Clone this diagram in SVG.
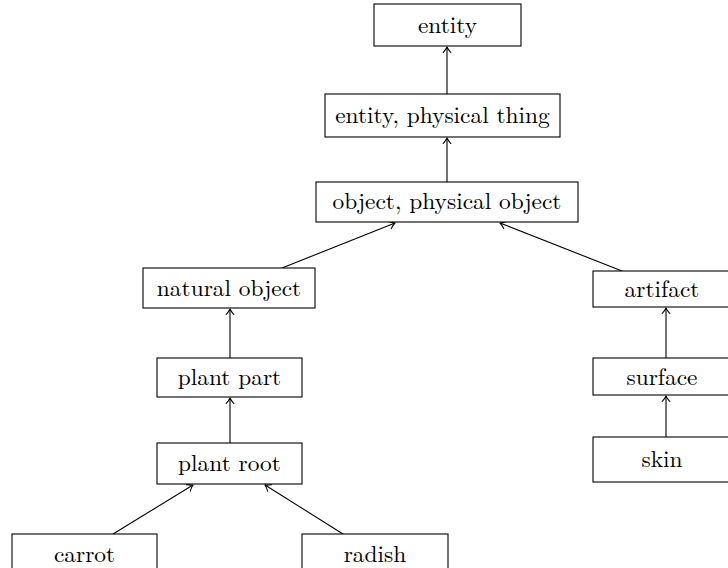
<svg xmlns="http://www.w3.org/2000/svg" width="728" height="568" viewBox="0 0 728 568">
  <style>
    .box { fill: #fff; stroke: #000; stroke-width: 1.1; }
    .lbl { font-family: "Latin Modern Roman", "Liberation Serif", "DejaVu Serif", serif; font-size: 23.4px; fill: #000; text-anchor: middle; }
    .edge { stroke: #000; stroke-width: 1.1; fill: none; marker-end: url(#tip); }
  </style>
  <defs>
    <marker id="tip" viewBox="-6 -5 8 10" markerWidth="8" markerHeight="10" refX="0.5" refY="0" orient="auto" markerUnits="userSpaceOnUse">
      <path d="M -5 -3.8 Q -1.5 -0.8 0.5 0 Q -1.5 0.8 -5 3.8" fill="none" stroke="#000" stroke-width="1.1" stroke-linecap="round" stroke-linejoin="round"/>
    </marker>
  </defs>

  <!-- hypernym links, child to parent -->
  <g id="connectors">
    <line class="edge" x1="447" y1="94" x2="447" y2="47"/>
    <line class="edge" x1="447" y1="182" x2="447" y2="138"/>
    <line class="edge" x1="282" y1="268" x2="395" y2="223"/>
    <line class="edge" x1="622" y1="271" x2="500" y2="223"/>
    <line class="edge" x1="230" y1="358" x2="230" y2="309"/>
    <line class="edge" x1="230" y1="443" x2="230" y2="398"/>
    <line class="edge" x1="113" y1="534" x2="193" y2="485"/>
    <line class="edge" x1="343" y1="534" x2="265" y2="485"/>
    <line class="edge" x1="666" y1="358" x2="666" y2="308"/>
    <line class="edge" x1="666" y1="437" x2="666" y2="396"/>
  </g>

  <g id="entity">
    <rect class="box" x="374" y="4" width="147" height="42"/>
    <text class="lbl" x="447.5" y="33">entity</text>
  </g>
  <g id="entity-physical-thing">
    <rect class="box" x="325" y="94" width="235" height="43"/>
    <text class="lbl" x="442.5" y="123">entity, physical thing</text>
  </g>
  <g id="object-physical-object">
    <rect class="box" x="316" y="182" width="262" height="40"/>
    <text class="lbl" x="447" y="209">object, physical object</text>
  </g>
  <g id="natural-object">
    <rect class="box" x="143" y="268" width="172" height="40"/>
    <text class="lbl" x="229" y="296">natural object</text>
  </g>
  <g id="plant-part">
    <rect class="box" x="157" y="358" width="145" height="39"/>
    <text class="lbl" x="229.5" y="385">plant part</text>
  </g>
  <g id="plant-root">
    <rect class="box" x="157" y="443" width="145" height="41"/>
    <text class="lbl" x="229.5" y="471">plant root</text>
  </g>
  <g id="carrot">
    <rect class="box" x="12" y="534" width="145" height="44"/>
    <text class="lbl" x="84.5" y="562">carrot</text>
  </g>
  <g id="radish">
    <rect class="box" x="302" y="534" width="146" height="44"/>
    <text class="lbl" x="375" y="562">radish</text>
  </g>
  <g id="artifact">
    <rect class="box" x="593" y="271" width="138" height="36"/>
    <text class="lbl" x="662" y="297">artifact</text>
  </g>
  <g id="surface">
    <rect class="box" x="593" y="358" width="138" height="37"/>
    <text class="lbl" x="662" y="385">surface</text>
  </g>
  <g id="skin">
    <rect class="box" x="593" y="437" width="138" height="45"/>
    <text class="lbl" x="662" y="467">skin</text>
  </g>
</svg>
